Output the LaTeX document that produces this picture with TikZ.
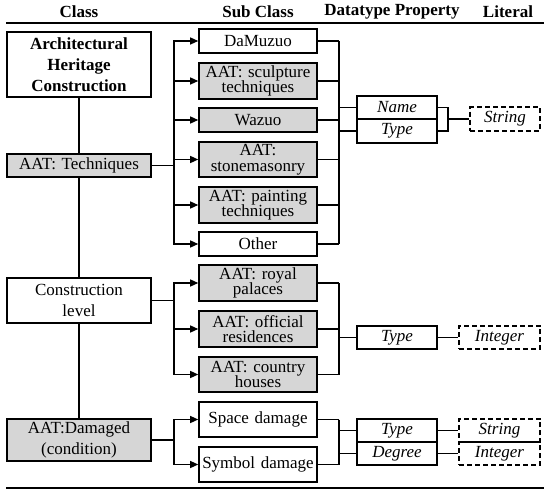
\documentclass[tikz,border=0pt]{standalone}
\usepackage{fontspec}
\setmainfont{Liberation Serif}
\usetikzlibrary{arrows.meta}
\definecolor{boxgray}{HTML}{D6D6D6}
\begin{document}
\begin{tikzpicture}[x=1pt,y=-1pt,
  every node/.style={inner sep=0pt,font=\fontsize{17}{15.5}\selectfont},
  box/.style={draw,line width=1.6pt,align=center},
  clsbox/.style={box,minimum width=144pt,text width=142pt,font=\fontsize{17}{21}\selectfont},
  subbox/.style={box,minimum width=118pt,text width=116pt},
  propbox/.style={box,minimum width=80pt,text width=78pt,minimum height=23.5pt,font=\fontsize{17}{15.5}\selectfont\itshape},
  litbox/.style={draw,line width=1.6pt,dash pattern=on 5pt off 3pt,minimum height=23.5pt,align=center,font=\fontsize{17}{15.5}\selectfont\itshape},
  grayfill/.style={fill=boxgray},
  hdr/.style={font=\fontsize{17}{17}\selectfont\bfseries},
  conn/.style={line width=1.3pt},
  arr/.style={conn,-{Triangle[length=8pt,width=7pt]}},
  rule/.style={line width=1.8pt}
]
\useasboundingbox (0,0) rectangle (550,495);

% headers
\node[hdr] (hClass) at (79,12) {Class};
\node[hdr] (hSub) at (258,12) {Sub Class};
\node[hdr] (hProp) at (392,12) {Datatype Property};
\node[hdr] (hLit) at (508,12) {Literal};
\coordinate (ruleTL) at (6,23);
\coordinate (ruleTR) at (544,23);
\coordinate (ruleBL) at (6,488);
\coordinate (ruleBR) at (544,488);
\draw[rule] (ruleTL) -- (ruleTR);
\draw[rule] (ruleBL) -- (ruleBR);

% class column
\node[clsbox,minimum height=65pt,font=\fontsize{17}{21}\selectfont\bfseries] (ahc) at (79,64.5) {Architectural\\Heritage\\Construction};
\node[clsbox,grayfill,minimum height=23pt] (tech) at (79,165.5) {AAT: Techniques};
\node[clsbox,minimum height=45pt] (cl) at (79,300.5) {Construction\\level};
\node[clsbox,grayfill,minimum height=42pt] (dmg) at (79,440) {AAT:Damaged\\(condition)};

\draw[conn] (ahc.south) -- (tech.north);
\draw[conn] (tech.south) -- (cl.north);
\draw[conn] (cl.south) -- (dmg.north);

% sub class column
\node[subbox,minimum height=24pt] (s1) at (258,41) {DaMuzuo};
\node[subbox,grayfill,minimum height=36pt] (s2) at (258,81) {AAT: sculpture\\techniques};
\node[subbox,grayfill,minimum height=24pt] (s3) at (258,120) {Wazuo};
\node[subbox,grayfill,minimum height=35pt] (s4) at (258,159.5) {AAT:\\stonemasonry};
\node[subbox,grayfill,minimum height=36pt] (s5) at (258,205) {AAT: painting\\techniques};
\node[subbox,minimum height=24pt] (s6) at (258,244) {Other};

\node[subbox,grayfill,minimum height=36pt] (r1) at (258,283) {AAT: royal\\palaces};
\node[subbox,grayfill,minimum height=36pt] (r2) at (258,329) {AAT: official\\residences};
\node[subbox,grayfill,minimum height=35pt] (r3) at (258,374.5) {AAT: country\\houses};

\node[subbox,minimum height=35pt] (d1) at (258,419.5) {Space damage};
\node[subbox,minimum height=35pt] (d2) at (258,464.5) {Symbol damage};

% property column
\node[propbox] (pName) at (397,107.5) {Name};
\node[propbox] (pType) at (397,131) {Type};
\node[propbox] (pType2) at (397,337.5) {Type};
\node[propbox] (pType3) at (397,430.5) {Type};
\node[propbox] (pDeg) at (397,453.5) {Degree};

% literal column
\node[litbox,minimum width=70pt] (lStr1) at (505,119) {String};
\node[litbox,minimum width=81pt] (lInt1) at (499.5,337.5) {Integer};
\node[litbox,minimum width=81pt] (lStr2) at (499.5,430.5) {String};
\node[litbox,minimum width=81pt] (lInt2) at (499.5,453.5) {Integer};

% branch coordinates
\coordinate (bT) at (174,165.5);
\coordinate (bC) at (174,300.5);
\coordinate (bD) at (174,440);
\coordinate (kR) at (339,0);
\coordinate (kN) at (448,0);

% techniques branch
\draw[conn] (tech.east) -- (bT);
\foreach \s in {s1,s2,s3,s4,s5,s6} {\draw[arr] (bT) |- (\s.west);}
\foreach \s in {s1,s2,s3,s4,s5,s6} {\draw[conn] (\s.east) -- (\s.east -| kR);}
\draw[conn] (s1.east -| kR) -- (s6.east -| kR);
\draw[conn] (pName.west -| kR) -- (pName.west);
\draw[conn] (pType.west -| kR) -- (pType.west);
\draw[conn] (pName.east) -- (pName.east -| kN) -- (pType.east -| kN) -- (pType.east);
\draw[conn] (lStr1.west -| kN) -- (lStr1.west);

% construction level branch
\draw[conn] (cl.east) -- (bC);
\foreach \s in {r1,r2,r3} {\draw[arr] (bC) |- (\s.west);}
\foreach \s in {r1,r2,r3} {\draw[conn] (\s.east) -- (\s.east -| kR);}
\draw[conn] (r1.east -| kR) -- (r3.east -| kR);
\draw[conn] (pType2.west -| kR) -- (pType2.west);
\draw[conn] (pType2.east) -- (lInt1.west);

% damage branch
\draw[conn] (dmg.east) -- (bD);
\foreach \s in {d1,d2} {\draw[arr] (bD) |- (\s.west);}
\foreach \s in {d1,d2} {\draw[conn] (\s.east) -- (\s.east -| kR);}
\draw[conn] (d1.east -| kR) -- (d2.east -| kR);
\draw[conn] (pType3.west -| kR) -- (pType3.west);
\draw[conn] (pDeg.west -| kR) -- (pDeg.west);
\draw[conn] (pType3.east) -- (lStr2.west);
\draw[conn] (pDeg.east) -- (lInt2.west);
\end{tikzpicture}
\end{document}
